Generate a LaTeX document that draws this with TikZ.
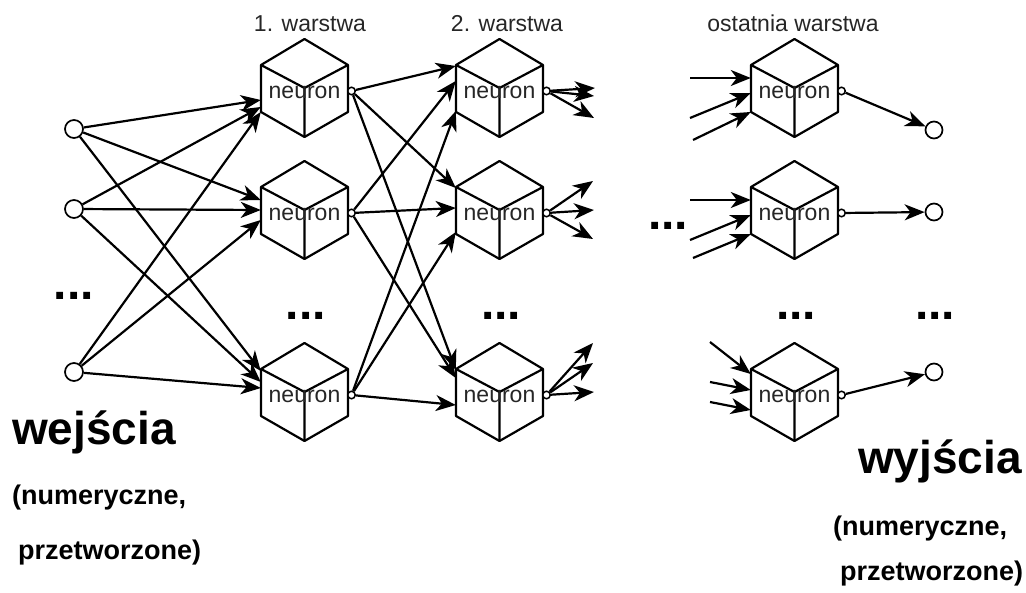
\documentclass[tikz,border=0pt]{standalone}
\usepackage{fontspec}
\setmainfont{Liberation Sans}
\usetikzlibrary{arrows.meta,backgrounds}
\tikzset{
  cubenode/.style={rectangle, minimum width=87pt, minimum height=98pt, inner sep=0pt, text height=22pt, text depth=0pt, font=\fontsize{23}{27}\selectfont, text=black!85},
  cubeface/.style={draw=black, fill=white, line width=2.2pt, line join=round},
  port/.style={circle, draw, fill=white, line width=1.5pt, minimum size=7.5pt, inner sep=0pt},
  io/.style={circle, draw, fill=white, line width=1.7pt, minimum size=18pt, inner sep=0pt},
  conn/.style={line width=2.2pt, -{Stealth[length=20pt,width=16pt,inset=6pt]}},
  layerlabel/.style={font=\fontsize{23}{27}\selectfont, text=black!85, inner sep=0pt, anchor=base},
  dots/.style={font=\bfseries\fontsize{48}{52}\selectfont, inner sep=0pt, anchor=base},
  bigword/.style={font=\bfseries\fontsize{46}{50}\selectfont, inner sep=0pt, anchor=base west},
  subword/.style={font=\bfseries\fontsize{27}{30}\selectfont, inner sep=0pt, anchor=base west},
}
\newcommand{\cubeat}[1]{%
  \path[cubeface] ([shift={(0,-49)}]#1.center) -- ([shift={(43.5,-23)}]#1.center) -- ([shift={(43.5,24)}]#1.center) -- ([shift={(0,49)}]#1.center) -- ([shift={(-43.5,24)}]#1.center) -- ([shift={(-43.5,-23)}]#1.center) -- cycle;
  \draw[cubeface, fill=none] ([shift={(-43.5,-23)}]#1.center) -- (#1.center) -- ([shift={(43.5,-23)}]#1.center) (#1.center) -- ([shift={(0,49)}]#1.center);
}
\begin{document}
\begin{tikzpicture}[x=1pt,y=-1pt]
\useasboundingbox (0,0) rectangle (1026,593);

% layer labels
\node[layerlabel] (lab1) at (310,32) {1. warstwa};
\node[layerlabel] (lab2) at (507,32) {2. warstwa};
\node[layerlabel] (lab3) at (793,32) {ostatnia warstwa};

% neurons
\node[cubenode] (n11) at (304.5,88) {neuron};
\node[cubenode] (n12) at (304.5,210) {neuron};
\node[cubenode] (n13) at (304.5,392) {neuron};
\node[cubenode] (n21) at (499.5,88) {neuron};
\node[cubenode] (n22) at (499.5,210) {neuron};
\node[cubenode] (n23) at (499.5,392) {neuron};
\node[cubenode] (n31) at (794.5,88) {neuron};
\node[cubenode] (n32) at (794.5,210) {neuron};
\node[cubenode] (n33) at (794.5,392) {neuron};

\begin{pgfonlayer}{background}
\foreach \c in {n11,n12,n13,n21,n22,n23,n31,n32,n33} {\cubeat{\c}}
\end{pgfonlayer}

% output ports
\foreach \c in {11,12,13,21,22,23,31,32,33} {
  \node[port] (o\c) at ([shift={(47,3)}]n\c.center) {};
}

% inputs and outputs
\node[io] (in1) at (74,129) {};
\node[io] (in2) at (74,209) {};
\node[io] (in3) at (74,372) {};
\node[io, minimum size=17pt] (out1) at (934,130) {};
\node[io, minimum size=17pt] (out2) at (934,212) {};
\node[io, minimum size=17pt] (out3) at (934,372) {};

% inputs -> layer 1
\draw[conn] (in1) -- ([shift={(0,12)}]n11.west);
\draw[conn] (in2) -- ([shift={(0,19)}]n11.west);
\draw[conn] (in3) -- ([shift={(0,24)}]n11.west);
\draw[conn] (in1) -- ([shift={(0,-10)}]n12.west);
\draw[conn] (in2) -- ([shift={(0,0)}]n12.west);
\draw[conn] (in3) -- ([shift={(0,10)}]n12.west);
\draw[conn] (in1) -- ([shift={(0,-21)}]n13.west);
\draw[conn] (in2) -- ([shift={(0,-10)}]n13.west);
\draw[conn] (in3) -- ([shift={(0,-4)}]n13.west);

% layer 1 -> layer 2
\draw[conn] (o11) -- ([shift={(0,-22)}]n21.west);
\draw[conn] (o12) -- ([shift={(0,-7)}]n21.west);
\draw[conn] (o13) -- ([shift={(0,23)}]n21.west);
\draw[conn] (o11) -- ([shift={(0,-22)}]n22.west);
\draw[conn] (o12) -- ([shift={(0,-2)}]n22.west);
\draw[conn] (o13) -- ([shift={(0,22)}]n22.west);
\draw[conn] (o11) -- ([shift={(0,-22)}]n23.west);
\draw[conn] (o12) -- ([shift={(0,-14)}]n23.west);
\draw[conn] (o13) -- ([shift={(0,13)}]n23.west);

% layer 2 outputs (free ends)
\coordinate (t21a) at (595,88);
\coordinate (t21b) at (594,96);
\coordinate (t21c) at (594,118);
\coordinate (t22a) at (593,181);
\coordinate (t22b) at (594,210);
\coordinate (t22c) at (593,239);
\coordinate (t23a) at (593,343);
\coordinate (t23b) at (593,363);
\coordinate (t23c) at (594,392);
\draw[conn] (o21) -- (t21a);
\draw[conn] (o21) -- (t21b);
\draw[conn] (o21) -- (t21c);
\draw[conn] (o22) -- (t22a);
\draw[conn] (o22) -- (t22b);
\draw[conn] (o22) -- (t22c);
\draw[conn] (o23) -- (t23a);
\draw[conn] (o23) -- (t23b);
\draw[conn] (o23) -- (t23c);

% last layer inputs (free starts)
\coordinate (s31a) at (690,78);
\coordinate (s31b) at (690,118);
\coordinate (s31c) at (693,140);
\coordinate (s32a) at (690,200);
\coordinate (s32b) at (690,240);
\coordinate (s32c) at (693,258);
\coordinate (s33a) at (710,342);
\coordinate (s33b) at (710,382);
\coordinate (s33c) at (710,402);
\draw[conn] (s31a) -- ([shift={(0,-10)}]n31.west);
\draw[conn] (s31b) -- ([shift={(0,5)}]n31.west);
\draw[conn] (s31c) -- ([shift={(0,24)}]n31.west);
\draw[conn] (s32a) -- ([shift={(0,-10)}]n32.west);
\draw[conn] (s32b) -- ([shift={(0,5)}]n32.west);
\draw[conn] (s32c) -- ([shift={(0,24)}]n32.west);
\draw[conn] (s33a) -- ([shift={(0,-18)}]n33.west);
\draw[conn] (s33b) -- ([shift={(0,-2)}]n33.west);
\draw[conn] (s33c) -- ([shift={(0,18)}]n33.west);

% last layer -> outputs
\draw[conn] (o31) -- (out1);
\draw[conn] (o32) -- (out2);
\draw[conn] (o33) -- (out3);

% ellipses
\node[dots] (d0) at (74,300) {...};
\node[dots] (d1) at (306,320) {...};
\node[dots] (d2) at (501,320) {...};
\node[dots] (dm) at (668,230) {...};
\node[dots] (d3) at (796,320) {...};
\node[dots] (d4) at (935,320) {...};

% texts
\node[bigword] (win) at (12,445) {wejścia};
\node[subword] (win2) at (12,504) {(numeryczne,};
\node[subword] (win3) at (18,559) {przetworzone)};
\node[bigword] (wout) at (858,474) {wyjścia};
\node[subword] (wout2) at (833,535) {(numeryczne,};
\node[subword] (wout3) at (840,580) {przetworzone)};
\end{tikzpicture}
\end{document}
